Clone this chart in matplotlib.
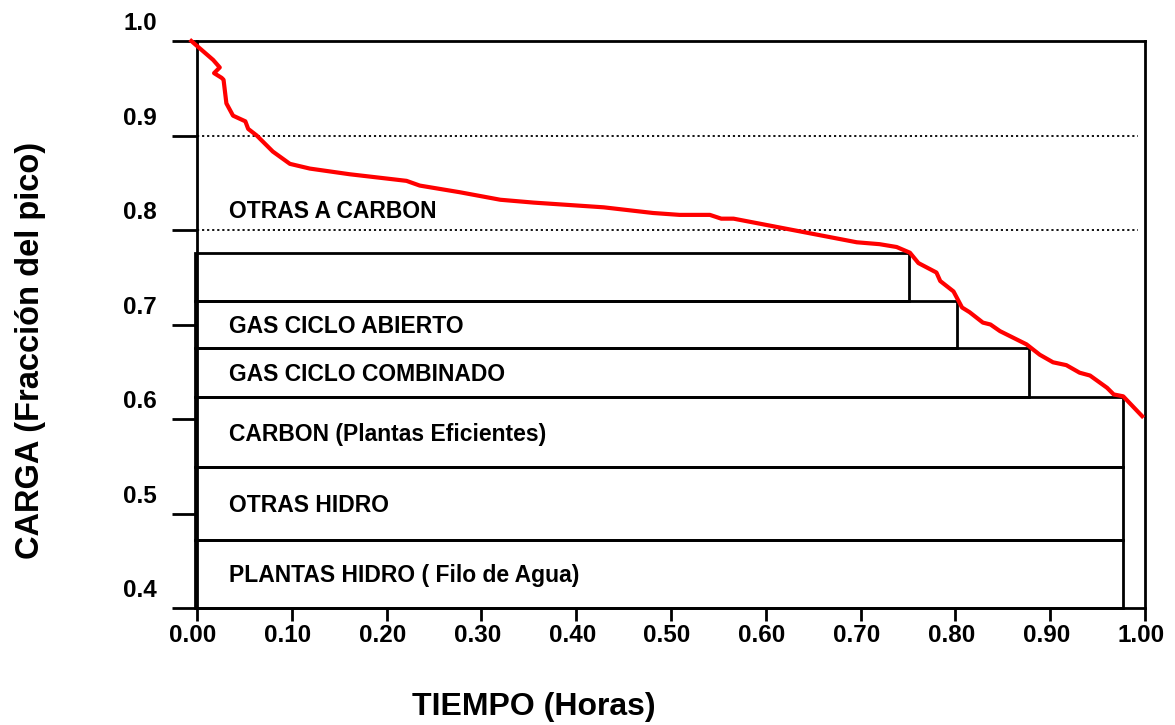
import matplotlib
matplotlib.use("Agg")
import matplotlib.pyplot as plt
import matplotlib.transforms as mtransforms
from matplotlib.patches import Rectangle

plt.rcParams["font.family"] = ["Liberation Sans", "DejaVu Sans"]
plt.rcParams["font.weight"] = "bold"

# load duration curve (fraction of peak vs fraction of time)
tiempo = [-0.006, 0.017, 0.024, 0.018, 0.026, 0.028, 0.031, 0.038, 0.051, 0.054,
          0.063, 0.080, 0.098, 0.119, 0.161, 0.204, 0.221, 0.235, 0.277, 0.320,
          0.355, 0.429, 0.481, 0.509, 0.541, 0.553, 0.566, 0.618, 0.696, 0.720,
          0.738, 0.752, 0.761, 0.780, 0.784, 0.798, 0.807, 0.815, 0.829, 0.837,
          0.847, 0.875, 0.889, 0.903, 0.917, 0.931, 0.942, 0.960, 0.967, 0.977,
          0.997]
carga = [1.000, 0.980, 0.972, 0.966, 0.961, 0.959, 0.934, 0.921, 0.915, 0.907,
         0.900, 0.883, 0.870, 0.865, 0.859, 0.854, 0.852, 0.847, 0.840, 0.832,
         0.829, 0.824, 0.818, 0.816, 0.816, 0.812, 0.812, 0.802, 0.787, 0.785,
         0.782, 0.776, 0.765, 0.755, 0.746, 0.735, 0.718, 0.713, 0.702, 0.700,
         0.693, 0.679, 0.668, 0.660, 0.657, 0.649, 0.646, 0.633, 0.626, 0.624,
         0.603]

# generation blocks
bloque_nombre = ["PLANTAS HIDRO ( Filo de Agua)", "OTRAS HIDRO",
                 "CARBON (Plantas Eficientes)", "GAS CICLO COMBINADO",
                 "GAS CICLO ABIERTO", ""]
bloque_inf = [0.400, 0.472, 0.549, 0.623, 0.675, 0.7245]
bloque_sup = [0.472, 0.549, 0.623, 0.675, 0.7245, 0.776]
bloque_fin = [0.977, 0.977, 0.977, 0.878, 0.802, 0.751]

niveles_punteados = [0.8, 0.9]
otras_label = "OTRAS A CARBON"
otras_y = 0.822

xticks = [0.0, 0.1, 0.2, 0.3, 0.4, 0.5, 0.6, 0.7, 0.8, 0.9, 1.0]
yticks = [0.4, 0.5, 0.6, 0.7, 0.8, 0.9, 1.0]

W, H = 1175, 725
fig = plt.figure(figsize=(W / 100, H / 100), dpi=100)
ax = fig.add_axes([197 / W, 1 - 608 / H, (1145 - 197) / W, (608 - 41) / H])
ax.set_xlim(0, 1)
ax.set_ylim(0.4, 1.0)

for s in ax.spines.values():
    s.set_linewidth(2)

for y in niveles_punteados:
    ax.hlines(y, 0, 0.993, colors="black", linewidth=1.3, linestyles=(0, (1.2, 1.6)))

for nombre, y0, y1, x1 in zip(bloque_nombre, bloque_inf, bloque_sup, bloque_fin):
    ax.add_patch(Rectangle((-0.002, y0), x1 + 0.002, y1 - y0, fill=False,
                           edgecolor="black", linewidth=2, clip_on=False))
    if nombre:
        ax.text(0.034, (y0 + y1) / 2 - 0.009, nombre, fontsize=16.5,
                fontweight="bold", va="baseline", ha="left")

ax.text(0.034, otras_y - 0.009, otras_label, fontsize=16.5, fontweight="bold",
        va="baseline", ha="left")

ax.plot(tiempo, carga, color="#ff0000", linewidth=3, clip_on=False, zorder=5)

ax.set_xticks(xticks)
ax.set_xticklabels([f"{v:.2f}" for v in xticks])
ax.set_yticks(yticks)
ax.set_yticklabels([f"{v:.1f}" for v in yticks])
ax.tick_params(axis="x", direction="out", length=9.5, width=2, pad=2, labelsize=17.5)
ax.tick_params(axis="y", direction="out", length=18, width=2, pad=11, labelsize=17.5)

dx = mtransforms.ScaledTranslation(-0.04, 0, fig.dpi_scale_trans)
for lab in ax.get_xticklabels():
    lab.set_transform(lab.get_transform() + dx)
dy = mtransforms.ScaledTranslation(0, 0.20, fig.dpi_scale_trans)
for lab in ax.get_yticklabels():
    lab.set_transform(lab.get_transform() + dy)

fig.text(31 / W, 1 - 350 / H, "CARGA (Fracción del pico)", rotation=90,
         fontsize=23.5, fontweight="bold", ha="center", va="center")
fig.text(534 / W, 1 - 715 / H, "TIEMPO (Horas)", fontsize=23,
         fontweight="bold", ha="center", va="baseline")

fig.savefig("out.png", dpi=100)
